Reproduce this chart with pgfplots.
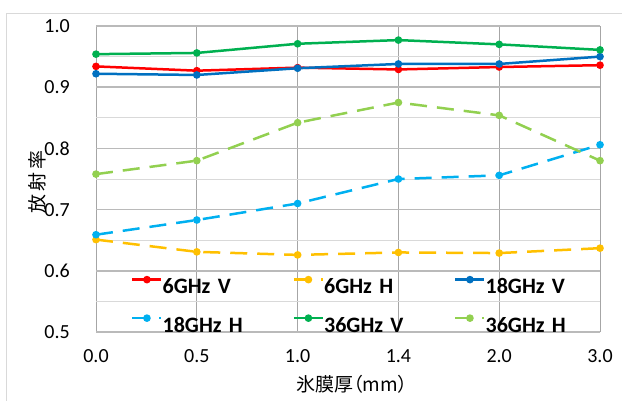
\documentclass[border=0pt]{standalone}
\usepackage{fontspec}
\setmainfont{Carlito}
\newfontfamily\cjk[RawFeature=+palt]{Noto Sans CJK JP}
\usepackage{pgfplots}
\pgfplotsset{compat=1.18}

\definecolor{sRed}{HTML}{FF0000}
\definecolor{sOrange}{HTML}{FFC000}
\definecolor{sBlue}{HTML}{0070C0}
\definecolor{sLBlue}{HTML}{00B0F0}
\definecolor{sGreen}{HTML}{00B050}
\definecolor{sLGreen}{HTML}{92D050}

\begin{document}
\begin{tikzpicture}[x=1bp,y=1bp]
\path[use as bounding box] (0,0) rectangle (622,-400);
\draw[color=black!15, line width=1bp] (6.5,-13) rectangle (640,-420);
\begin{axis}[
    at={(96bp,-332bp)}, anchor=south west,
    scale only axis, width=504bp, height=306bp,
    xmin=0, xmax=5, ymin=0.5, ymax=1.0,
    xtick={0,1,2,3,4,5},
    xticklabels={0.0,0.5,1.0,1.4,2.0,3.0},
    ytick={0.5,0.6,0.7,0.8,0.9,1.0},
    yticklabels={0.5,0.6,0.7,0.8,0.9,1.0},
    minor ytick={0.55,0.65,0.75,0.85,0.95},
    /pgf/number format/assume math mode=true,
    tick label style={font=\fontsize{20bp}{24bp}\selectfont, inner sep=0bp},
    yticklabel style={anchor=east, xshift=-26bp},
    xticklabel style={anchor=north, yshift=-17bp},
    axis line style={draw=none},
    major tick length=0pt, minor tick length=0pt,
    grid=both,
    major x grid style={draw=black!35, line width=0.75bp},
    major y grid style={draw=black!27, line width=1.5bp},
    minor y grid style={draw=black!15, line width=0.9bp},
    xlabel={\cjk 氷膜厚（mm）},
    xlabel style={at={(axis description cs:0.508,-0.17)}, anchor=center, font=\fontsize{19bp}{23bp}\selectfont},
    ylabel={\cjk 放\hspace{3bp}射\hspace{3bp}率},
    ylabel style={at={(axis description cs:-0.117,0.49)}, anchor=center, font=\fontsize{19bp}{23bp}\selectfont},
    every axis plot/.append style={line width=2.5bp, mark=*, mark size=2.5bp, mark options={solid}},
    legend columns=3,
    legend style={draw=none, fill=none, inner sep=0bp,
        at={(axis description cs:0.0694,0.18)}, anchor=north west,
        font=\fontsize{22bp}{26bp}\selectfont\bfseries,
        nodes={inner xsep=0bp, inner ysep=0bp, text height=14bp, text depth=0bp,
               text width=130bp, align=left},
        row sep=22bp, column sep=0bp},
    legend cell align=left,
    legend image code/.code={\draw[#1,mark repeat=2,mark phase=2] plot coordinates {(0bp,7bp) (14.5bp,7bp) (29bp,7bp)};},
    dashH/.style={dash pattern=on 17bp off 10bp},
]

\addplot[color=sRed] coordinates {
    (0,0.934) (1,0.927) (2,0.932) (3,0.929) (4,0.933) (5,0.936)
};
\addlegendentry{6GHz V}

\addplot[color=sOrange, dashH] coordinates {
    (0,0.651) (1,0.631) (2,0.626) (3,0.630) (4,0.629) (5,0.637)
};
\addlegendentry{6GHz H}

\addplot[color=sBlue] coordinates {
    (0,0.922) (1,0.920) (2,0.931) (3,0.938) (4,0.938) (5,0.950)
};
\addlegendentry{18GHz V}

\addplot[color=sLBlue, dashH] coordinates {
    (0,0.659) (1,0.683) (2,0.710) (3,0.750) (4,0.756) (5,0.806)
};
\addlegendentry{18GHz H}

\addplot[color=sGreen] coordinates {
    (0,0.954) (1,0.956) (2,0.971) (3,0.977) (4,0.970) (5,0.961)
};
\addlegendentry{36GHz V}

\addplot[color=sLGreen, dashH] coordinates {
    (0,0.758) (1,0.780) (2,0.842) (3,0.875) (4,0.854) (5,0.780)
};
\addlegendentry{36GHz H}

\end{axis}
\end{tikzpicture}
\end{document}
